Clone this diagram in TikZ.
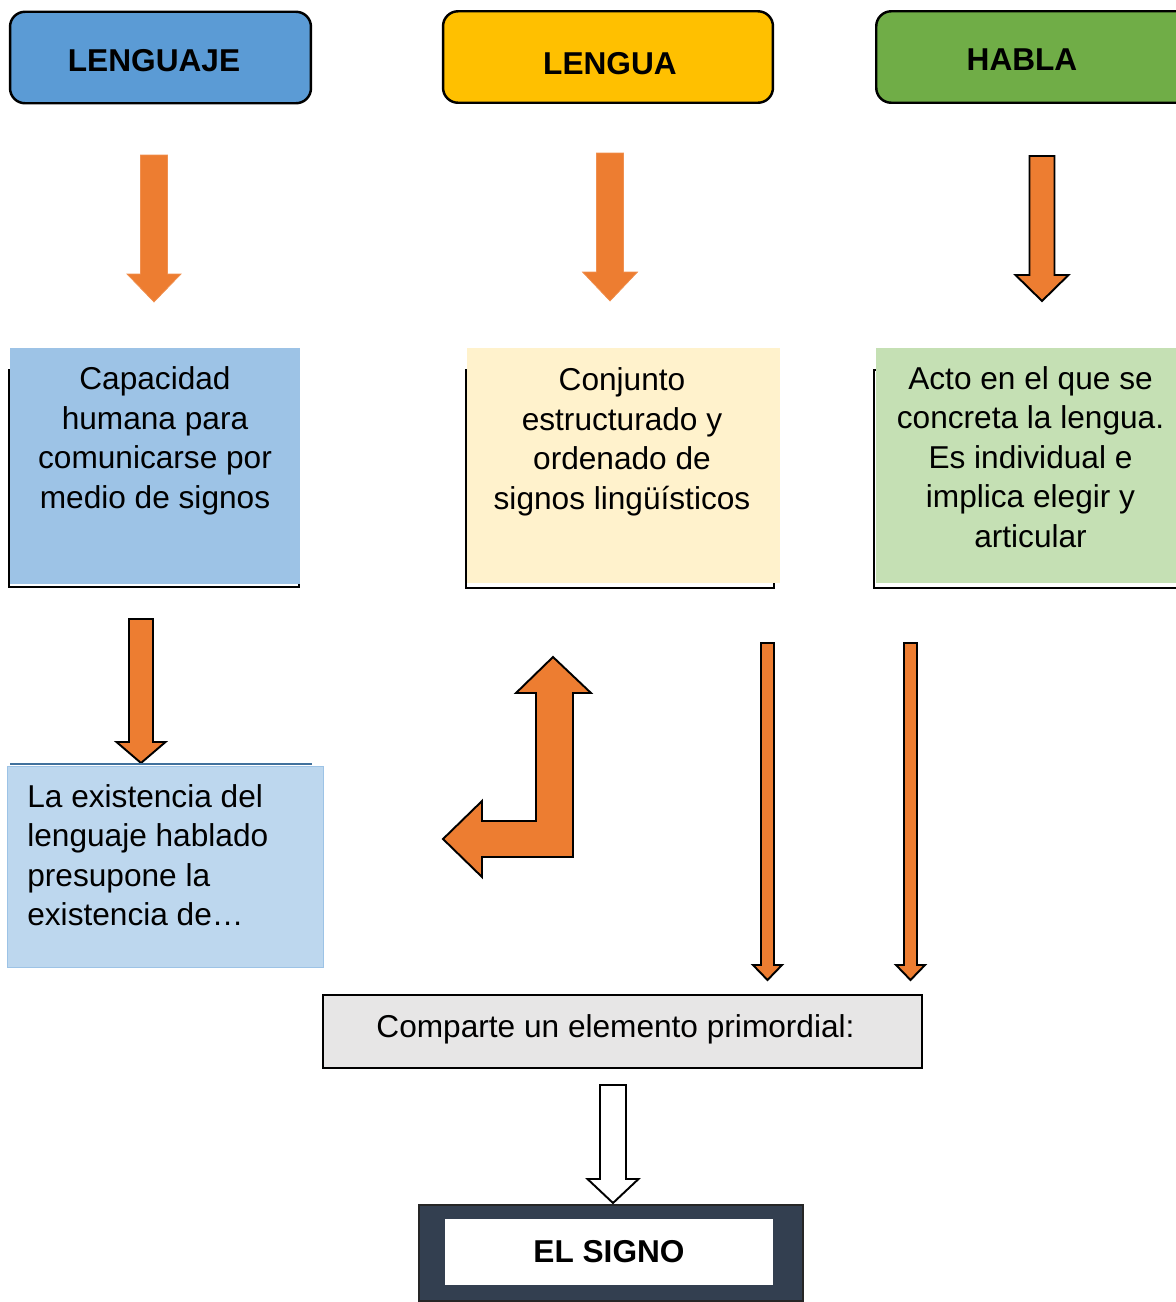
\documentclass[tikz,border=0pt]{standalone}
\usepackage{fontspec}
\setmainfont{Liberation Sans}
\usepackage{tikz}
\usetikzlibrary{positioning}

\definecolor{lenguajeblue}{HTML}{5B9BD5}
\definecolor{lenguayellow}{HTML}{FFC000}
\definecolor{hablagreen}{HTML}{70AD47}
\definecolor{arroworange}{HTML}{ED7D31}
\definecolor{capblue}{HTML}{9DC3E6}
\definecolor{conjcream}{HTML}{FFF2CC}
\definecolor{actogreen}{HTML}{C5E0B4}
\definecolor{exisblue}{HTML}{BDD7EE}
\definecolor{exisline}{HTML}{41719C}
\definecolor{compgray}{HTML}{E7E6E6}
\definecolor{signonavy}{HTML}{333F50}

% x, top, base of head, tip, half shaft, half head
\newcommand{\downblock}[6]{(#1-#5,#2) -- (#1+#5,#2) -- (#1+#5,#3) -- (#1+#6,#3) -- (#1,#4) -- (#1-#6,#3) -- (#1-#5,#3) -- cycle}

\tikzset{
	topbox/.style={draw=black,line width=1.4pt,rounded corners=0.3cm,minimum height=1.83cm},
	toptext/.style={font=\fontsize{18}{22.5}\selectfont\bfseries,inner sep=0pt},
	bodytext/.style={align=center,inner sep=0pt},
	shadowline/.style={draw=black,line width=1.4pt},
	orangearrow/.style={fill=arroworange,draw=arroworange!85!white,line width=0.4pt},
	blackarrow/.style={fill=arroworange,draw=black,line width=1.1pt,line join=miter},
}

\begin{document}
\begin{tikzpicture}[x=0.02cm,y=-0.02cm,font=\fontsize{18}{22.5}\selectfont]
		\useasboundingbox (0,0) rectangle (1176,1302);
		
		% top row
		\node[topbox,fill=lenguajeblue,minimum width=6.02cm] (lenguaje) at (160.5,57.5) {};
		\node[toptext] (lenguajetxt) at (154,60.5) {LENGUAJE};
		\node[topbox,fill=lenguayellow,minimum width=6.6cm] (lengua) at (608,57) {};
		\node[toptext] (lenguatxt) at (610,64) {LENGUA};
		\node[topbox,fill=hablagreen,minimum width=6.4cm,anchor=west] (habla) at (875,57) {};
		\node[toptext] (hablatxt) at (1022,60) {HABLA};
		
		\draw[orangearrow] \downblock{154}{155}{274}{302}{13.5}{27};
		\draw[orangearrow] \downblock{610}{153}{272}{301}{13.5}{27.5};
		\draw[blackarrow] \downblock{1042}{156}{275}{301}{12.5}{26.5};
		
		% middle row
		\draw[shadowline] (9,370) rectangle (299,587);
		\node[fill=capblue,minimum width=5.8cm,minimum height=4.72cm,anchor=north west,inner sep=0pt] (capacidad) at (10,348) {};
		\node[bodytext] (capacidadtxt) at (155,441) {Capacidad\\humana para\\comunicarse por\\medio de signos};
		
		\draw[shadowline] (466,370) rectangle (774,588);
		\node[fill=conjcream,minimum width=6.26cm,minimum height=4.7cm,anchor=north west,inner sep=0pt] (conjunto) at (467,348) {};
		\node[bodytext] (conjuntotxt) at (622,442) {Conjunto\\estructurado y\\ordenado de\\signos lingüísticos};
		
		\draw[shadowline] (874,370) rectangle (1200,588);
		\node[fill=actogreen,minimum width=6.4cm,minimum height=4.7cm,anchor=north west,inner sep=0pt] (acto) at (876,348) {};
		\node[bodytext] (actotxt) at (1030.5,457) {Acto en el que se\\concreta la lengua.\\Es individual e\\implica elegir y\\articular};
		
		\draw[blackarrow] \downblock{141}{619}{742}{763}{12}{24.5};
		
		\node[fill=exisblue,draw=capblue,line width=0.6pt,minimum width=6.32cm,minimum height=4.02cm,anchor=north west,inner sep=0pt] (existencia) at (7,766) {};
		\draw[exisline,line width=1.2pt] (10,764) -- (312,764);
		\node[align=left,inner sep=0pt,anchor=west] (existenciatxt) at (27,855) {La existencia del\\lenguaje hablado\\presupone la\\existencia de…};
		
		% bent arrow
		\draw[blackarrow] (553,657) -- (591,693) -- (573,693) -- (573,857) -- (482,857) -- (482,877) -- (443,839) -- (482,801) -- (482,821) -- (536,821) -- (536,693) -- (516,693) -- cycle;
		
		\draw[blackarrow] \downblock{767.5}{643}{965}{980}{6.5}{14.5};
		\draw[blackarrow] \downblock{910.5}{643}{965}{980}{6.5}{14.5};
		
		% bottom
		\node[fill=compgray,draw=black,line width=1.4pt,minimum width=11.98cm,minimum height=1.46cm] (comparte) at (622.5,1031.5) {};
		\node[inner sep=0pt] (compartetxt) at (615.5,1029) {Comparte un elemento primordial:};
		\draw[fill=white,draw=black,line width=1.1pt,line join=miter] \downblock{613}{1085}{1179}{1203}{13}{25.5};
		\node[fill=signonavy,draw=black!85,line width=1pt,minimum width=7.68cm,minimum height=1.92cm] (signo) at (611,1253) {};
		\node[fill=white,minimum width=6.56cm,minimum height=1.32cm,font=\fontsize{18}{22.5}\selectfont\bfseries] (signotxt) at (609,1252) {EL SIGNO};
\end{tikzpicture}
\end{document}
